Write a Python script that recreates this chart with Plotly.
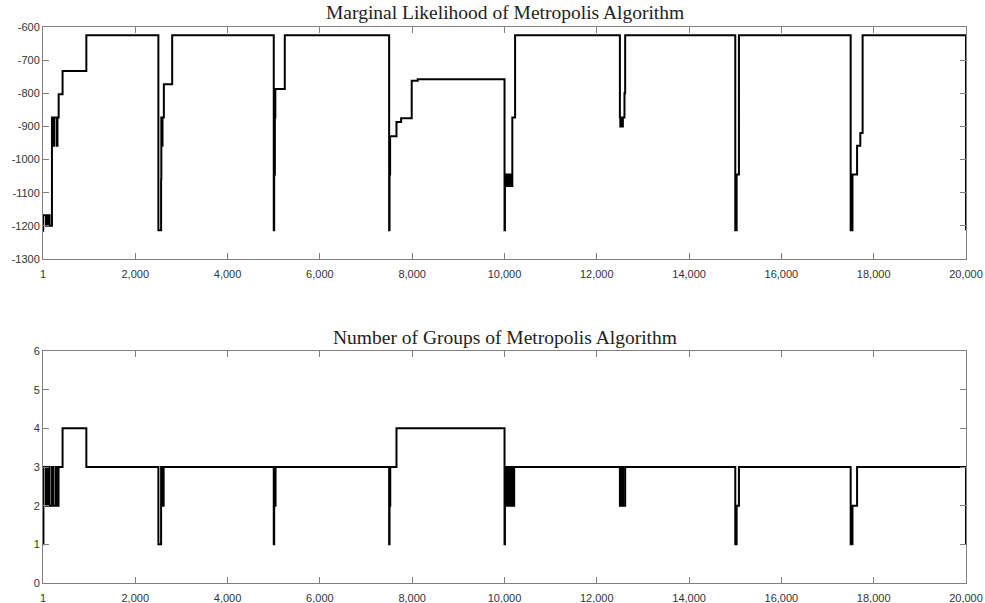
import plotly.graph_objects as go

# ---- Marginal likelihood chain (change points: iteration, value) ----
ml_iter = [1, 5, 65, 100, 143, 195, 230, 245, 300, 315, 340, 425, 940,
           2501, 2560, 2565, 2580, 2590, 2620, 2800,
           5001, 5010, 5025, 5035, 5240,
           7501, 7510, 7515, 7518, 7522, 7660, 7760, 7990, 8120,
           10001, 10010, 10025, 10040, 10055, 10070, 10085, 10100, 10115, 10130, 10145, 10170, 10230,
           12501, 12510, 12520, 12530, 12540, 12550, 12565, 12600, 12615,
           15001, 15030, 15080,
           17501, 17515, 17520, 17530, 17535, 17540, 17640, 17710, 17760,
           19999, 20000]
ml_value = [-1215, -1168, -1200, -1168, -1200, -873, -958, -873, -958, -873, -803, -733, -625,
            -1213, -1060, -873, -958, -873, -773, -625,
            -1213, -1045, -873, -787, -625,
            -1213, -1045, -930, -1045, -930, -887, -875, -762, -758,
            -1213, -1045, -1080, -1045, -1080, -1045, -1080, -1045, -1080, -1045, -1080, -873, -625,
            -873, -900, -873, -900, -873, -900, -873, -800, -625,
            -1213, -1045, -625,
            -1213, -1045, -1213, -1045, -1213, -1045, -958, -920, -625,
            -625, -1213]

# ---- Number of groups chain (change points: iteration, value) ----
grp_iter = [1, 10, 65, 100, 143, 195, 230, 282, 304, 338, 425, 940,
            2501, 2560, 2575, 2615,
            5001, 5010, 5040,
            7501, 7510, 7515, 7520, 7525, 7660,
            10001, 10010, 10025, 10040, 10055, 10070, 10085, 10100, 10115, 10130, 10145, 10160, 10170, 10210,
            12501, 12515, 12525, 12540, 12550, 12565, 12570, 12615,
            15001, 15030, 15080,
            17501, 17515, 17520, 17530, 17535, 17540, 17640,
            19999, 20000]
grp_value = [1, 3, 2, 3, 2, 3, 2, 3, 2, 3, 4, 3,
             1, 3, 2, 3,
             1, 2, 3,
             1, 2, 3, 2, 3, 4,
             1, 3, 2, 3, 2, 3, 2, 3, 2, 3, 2, 3, 2, 3,
             2, 3, 2, 3, 2, 3, 2, 3,
             1, 2, 3,
             1, 2, 1, 2, 1, 2, 3,
             3, 1]

x_tickvals = [1, 2000, 4000, 6000, 8000, 10000, 12000, 14000, 16000, 18000, 20000]
x_ticktext = ["1", "2,000", "4,000", "6,000", "8,000", "10,000", "12,000", "14,000", "16,000", "18,000", "20,000"]
ml_tickvals = [-600, -700, -800, -900, -1000, -1100, -1200, -1300]
ml_ticktext = ["-600", "-700", "-800", "-900", "-1000", "-1100", "-1200", "-1300"]
grp_tickvals = [0, 1, 2, 3, 4, 5, 6]
grp_ticktext = ["0", "1", "2", "3", "4", "5", "6"]

titles = ["Marginal Likelihood of Metropolis Algorithm", "Number of Groups of Metropolis Algorithm"]

W, H = 985, 603
ml, mr, mt, mb = 43, 19, 27, 20
ph = H - mt - mb
top_dom = [1 - 232 / ph, 1]
bot_dom = [0, 232 / ph]

fig = go.Figure()
fig.add_trace(go.Scatter(x=ml_iter, y=ml_value, mode="lines", line=dict(color="black", width=2, shape="hv"),
                         xaxis="x", yaxis="y", showlegend=False, hoverinfo="skip"))
fig.add_trace(go.Scatter(x=grp_iter, y=grp_value, mode="lines", line=dict(color="black", width=2, shape="hv"),
                         xaxis="x2", yaxis="y2", showlegend=False, hoverinfo="skip"))

axis_common = dict(showline=True, linecolor="#808080", linewidth=1, mirror="ticks", ticks="inside",
                   ticklen=6, tickcolor="#808080", showgrid=False, zeroline=False, automargin=False,
                   tickfont=dict(family="Liberation Sans, Arial", size=11, color="#333333"))

fig.update_layout(
    width=W, height=H,
    margin=dict(l=ml, r=mr, t=mt, b=mb, autoexpand=False),
    paper_bgcolor="white", plot_bgcolor="white",
    xaxis=dict(domain=[0, 1], anchor="y", range=[1, 20000], tickvals=x_tickvals, ticktext=x_ticktext,
               ticklabelstandoff=5, **axis_common),
    yaxis=dict(domain=top_dom, anchor="x", range=[-1300, -600], tickvals=ml_tickvals, ticktext=ml_ticktext, **axis_common),
    xaxis2=dict(domain=[0, 1], anchor="y2", range=[1, 20000], tickvals=x_tickvals, ticktext=x_ticktext,
                ticklabelstandoff=5, **axis_common),
    yaxis2=dict(domain=bot_dom, anchor="x2", range=[0, 6], tickvals=grp_tickvals, ticktext=grp_ticktext, **axis_common),
)

title_font = dict(family="Liberation Serif, DejaVu Serif, serif", size=19.5, color="#222222")
fig.add_annotation(text=titles[0], x=0.5, y=1 + (mt - 13) / ph, xref="paper", yref="paper",
                   xanchor="center", yanchor="middle", showarrow=False, font=title_font)
fig.add_annotation(text=titles[1], x=0.5, y=(H - mb - 337) / ph, xref="paper", yref="paper",
                   xanchor="center", yanchor="middle", showarrow=False, font=title_font)

fig.write_html("out.html")
